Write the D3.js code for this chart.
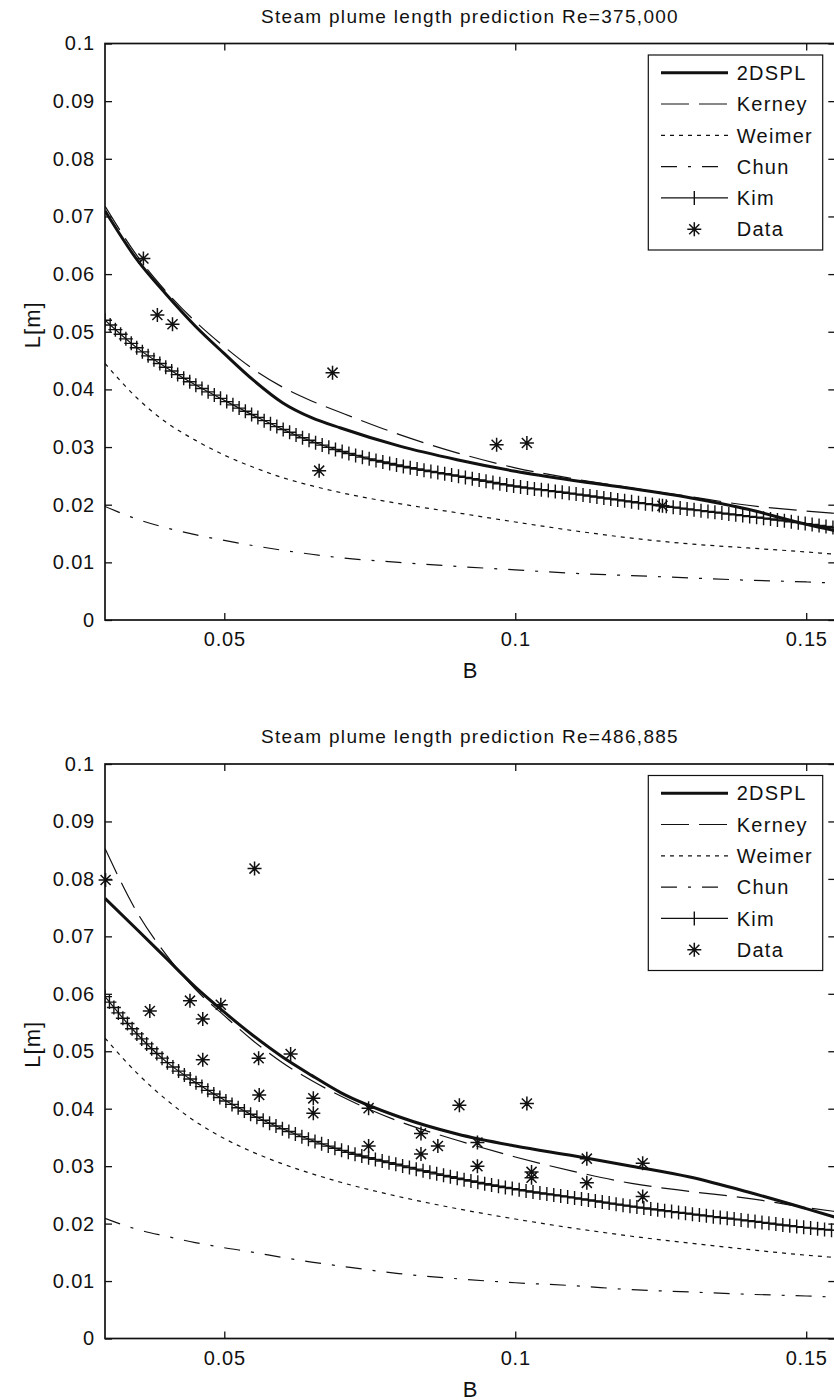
<!DOCTYPE html>
<html><head><meta charset="utf-8">
<script src="https://cdn.jsdelivr.net/npm/d3@7"></script>
<style>
html,body{margin:0;padding:0;background:#fff;}
svg{display:block;font-family:"Liberation Sans",Arial,sans-serif;}
</style></head><body>
<svg id="chart" width="834" height="1400"></svg>
<script>
const bGrid=[0.0295,0.035,0.04,0.045,0.05,0.055,0.06,0.065,0.07,0.08,0.09,0.1,0.11,0.12,0.13,0.14,0.15,0.155];

// Re=375,000
const top2DSPL =[0.0710,0.0625,0.0565,0.0510,0.0462,0.0416,0.0377,0.0351,0.0333,0.0302,0.0278,0.0258,0.0242,0.0228,0.0212,0.0192,0.0166,0.0155];
const topKerney=[0.0718,0.0632,0.0570,0.0518,0.0474,0.0435,0.0404,0.0380,0.0360,0.0322,0.0290,0.0264,0.0245,0.0229,0.0214,0.0199,0.0189,0.0185];
const topWeimer=[0.0445,0.0385,0.0343,0.0312,0.0286,0.0265,0.0247,0.0233,0.0221,0.0202,0.0186,0.0170,0.0155,0.0142,0.0132,0.0125,0.0118,0.0114];
const topChun  =[0.0197,0.0175,0.0160,0.0148,0.0138,0.0129,0.0121,0.0114,0.0108,0.0100,0.0093,0.0087,0.0081,0.0077,0.0073,0.0069,0.0066,0.0064];
const topKim   =[0.0520,0.0472,0.0438,0.0408,0.0381,0.0355,0.0331,0.0310,0.0293,0.0268,0.0250,0.0232,0.0219,0.0205,0.0192,0.0180,0.0167,0.0160];
const topDataB =[0.0361,0.0385,0.0411,0.0663,0.0686,0.0968,0.1020,0.1253];
const topDataL =[0.0627,0.0529,0.0513,0.0259,0.0429,0.0304,0.0307,0.0198];

// Re=486,885
const bot2DSPL =[0.0766,0.0712,0.0662,0.0612,0.0568,0.0527,0.0490,0.0458,0.0428,0.0386,0.0356,0.0335,0.0318,0.0300,0.0281,0.0255,0.0226,0.0211];
const botKerney=[0.0853,0.0742,0.0668,0.0608,0.0562,0.0518,0.0480,0.0449,0.0422,0.0378,0.0345,0.0316,0.0291,0.0270,0.0256,0.0244,0.0228,0.0221];
const botWeimer=[0.0523,0.0462,0.0416,0.0378,0.0348,0.0324,0.0304,0.0287,0.0272,0.0247,0.0226,0.0208,0.0192,0.0178,0.0166,0.0155,0.0145,0.0141];
const botChun  =[0.0209,0.0190,0.0178,0.0167,0.0158,0.0150,0.0141,0.0133,0.0126,0.0113,0.0104,0.0097,0.0092,0.0085,0.0081,0.0077,0.0074,0.0072];
const botKim   =[0.0595,0.0530,0.0482,0.0446,0.0415,0.0388,0.0365,0.0345,0.0328,0.0302,0.0279,0.0260,0.0245,0.0230,0.0217,0.0205,0.0193,0.0188];
const botDataB =[0.0296,0.0372,0.0441,0.0463,0.0463,0.0494,0.0552,0.0559,0.0560,0.0614,0.0653,0.0653,0.0748,0.0748,0.0838,0.0838,0.0867,0.0904,0.0935,0.0935,0.1020,0.1028,0.1028,0.1123,0.1123,0.1219,0.1219];
const botDataL =[0.0798,0.0570,0.0588,0.0556,0.0485,0.0581,0.0818,0.0488,0.0424,0.0495,0.0418,0.0392,0.0401,0.0335,0.0357,0.0321,0.0335,0.0406,0.0341,0.0300,0.0409,0.0290,0.0280,0.0313,0.0271,0.0305,0.0247];

const seriesNames=["2DSPL","Kerney","Weimer","Chun","Kim","Data"];
const yTicks=[0,0.01,0.02,0.03,0.04,0.05,0.06,0.07,0.08,0.09,0.1];
const yTickLabels=["0","0.01","0.02","0.03","0.04","0.05","0.06","0.07","0.08","0.09","0.1"];
const xTicks=[0.05,0.1,0.15];
const xTickLabels=["0.05","0.1","0.15"];

const svg=d3.select("#chart");
svg.append("rect").attr("width",834).attr("height",1400).attr("fill","#fff");

const X0=105,X1=835.3;
const x=d3.scaleLinear().domain([0.0295,0.155]).range([X0,X1]);
const ink="#111";
const FONT="Liberation Sans";

const styles={
  "2DSPL":{w:3,dash:null},
  "Kerney":{w:1.2,dash:"28 10"},
  "Weimer":{w:1.2,dash:"4 5"},
  "Chun":{w:1.2,dash:"16 11 3 11"},
  "Kim":{w:1.2,dash:null}
};

function starPath(cx,cy,r){const a=r*0.72;
  return `M${cx-r},${cy}h${2*r}M${cx},${cy-r}v${2*r}M${cx-a},${cy-a}l${2*a},${2*a}M${cx-a},${cy+a}l${2*a},${-2*a}`;}

function plusMarks(node,step,h){const len=node.getTotalLength();
  return d3.range(0,len,step).map(s=>{const p=node.getPointAtLength(s);
    return `M${p.x},${p.y-h}v${2*h}M${p.x-h},${p.y}h${2*h}`;}).join("");}

function panel(cfg){
  const g=svg.append("g");
  const y=d3.scaleLinear().domain([0,0.1]).range([cfg.yb,cfg.yt]);
  const clipid="clip"+cfg.id;
  g.append("clipPath").attr("id",clipid).append("rect")
    .attr("x",X0).attr("y",cfg.yt).attr("width",X1-X0).attr("height",cfg.yb-cfg.yt);

  const line=d3.line().x((d,i)=>x(bGrid[i])).y(d=>y(d)).curve(d3.curveMonotoneX);
  const lines=g.append("g").attr("clip-path",`url(#${clipid})`);
  const curves={"Chun":cfg.chun,"Weimer":cfg.weimer,"Kim":cfg.kim,"Kerney":cfg.kerney,"2DSPL":cfg.spl};
  Object.keys(curves).forEach(k=>{
    const p=lines.append("path").datum(curves[k]).attr("d",line)
      .attr("fill","none").attr("stroke",ink).attr("stroke-width",styles[k].w)
      .attr("stroke-dasharray",styles[k].dash);
    if (k==="Kim") lines.append("path").attr("d",plusMarks(p.node(),7,7))
      .attr("fill","none").attr("stroke",ink).attr("stroke-width",1.4);
  });

  g.append("path").attr("d",cfg.dataB.map((b,i)=>starPath(x(b),y(cfg.dataL[i]),7)).join(""))
    .attr("fill","none").attr("stroke",ink).attr("stroke-width",1.5);

  // axes, matlab style ticks pointing inwards
  const fnt=a=>a.attr("font-family",FONT).attr("font-size",20).attr("color",ink).attr("letter-spacing",0.8);
  g.append("g").attr("transform",`translate(${X0},0)`)
    .call(d3.axisLeft(y).tickValues(yTicks).tickFormat((d,i)=>yTickLabels[i]).tickSizeInner(-7).tickSizeOuter(0).tickPadding(10))
    .call(fnt).call(a=>a.select(".domain").remove());
  g.append("g").attr("transform",`translate(${X1},0)`)
    .call(d3.axisRight(y).tickValues(yTicks).tickFormat("").tickSizeInner(-7).tickSizeOuter(0))
    .call(fnt).call(a=>a.select(".domain").remove());
  g.append("g").attr("transform",`translate(0,${cfg.yb})`)
    .call(d3.axisBottom(x).tickValues(xTicks).tickFormat((d,i)=>xTickLabels[i]).tickSizeInner(-7).tickSizeOuter(0).tickPadding(12))
    .call(fnt).call(a=>a.select(".domain").remove());
  g.append("g").attr("transform",`translate(0,${cfg.yt})`)
    .call(d3.axisTop(x).tickValues(xTicks).tickFormat("").tickSizeInner(-7).tickSizeOuter(0))
    .call(fnt).call(a=>a.select(".domain").remove());
  g.selectAll(".tick line").attr("stroke-width",1.3);
  g.append("rect").attr("x",X0).attr("y",cfg.yt).attr("width",X1-X0).attr("height",cfg.yb-cfg.yt)
    .attr("fill","none").attr("stroke",ink).attr("stroke-width",1.7);

  g.append("text").attr("x",470).attr("y",cfg.yt-21).attr("text-anchor","middle")
    .attr("font-size",19).attr("letter-spacing",1.3).attr("fill",ink).text(cfg.title);
  g.append("text").attr("x",470).attr("y",cfg.yb+58).attr("text-anchor","middle")
    .attr("font-size",22).attr("fill",ink).text("B");
  const ly=(cfg.yt+cfg.yb)/2-7;
  g.append("text").attr("transform",`translate(40,${ly}) rotate(-90)`).attr("text-anchor","middle")
    .attr("font-size",22).attr("letter-spacing",1).attr("fill",ink).text("L[m]");

  // legend
  const lg=g.append("g").attr("transform",`translate(648.3,${cfg.yt+11.5})`);
  lg.append("rect").attr("width",174.4).attr("height",195).attr("fill","#fff").attr("stroke",ink).attr("stroke-width",1.2);
  seriesNames.forEach((nm,i)=>{
    const cy=17.7+i*31.3;
    if (nm==="Data") lg.append("path").attr("d",starPath(46,cy,7)).attr("fill","none").attr("stroke",ink).attr("stroke-width",1.5);
    else lg.append("line").attr("x1",12.7).attr("x2",79.7).attr("y1",cy).attr("y2",cy)
      .attr("stroke",ink).attr("stroke-width",styles[nm].w).attr("stroke-dasharray",styles[nm].dash);
    if (nm==="Kim") lg.append("line").attr("x1",46).attr("x2",46).attr("y1",cy-7).attr("y2",cy+7).attr("stroke",ink).attr("stroke-width",1.4);
    lg.append("text").attr("x",88.4).attr("y",cy).attr("dy","0.36em").attr("font-size",20)
      .attr("letter-spacing",1.3).attr("fill",ink).text(nm);
  });
}

panel({id:1,yt:43.5,yb:620,title:"Steam plume length prediction Re=375,000",
  spl:top2DSPL,kerney:topKerney,weimer:topWeimer,chun:topChun,kim:topKim,dataB:topDataB,dataL:topDataL});
panel({id:2,yt:764,yb:1338.5,title:"Steam plume length prediction Re=486,885",
  spl:bot2DSPL,kerney:botKerney,weimer:botWeimer,chun:botChun,kim:botKim,dataB:botDataB,dataL:botDataL});
</script>
</body></html>
